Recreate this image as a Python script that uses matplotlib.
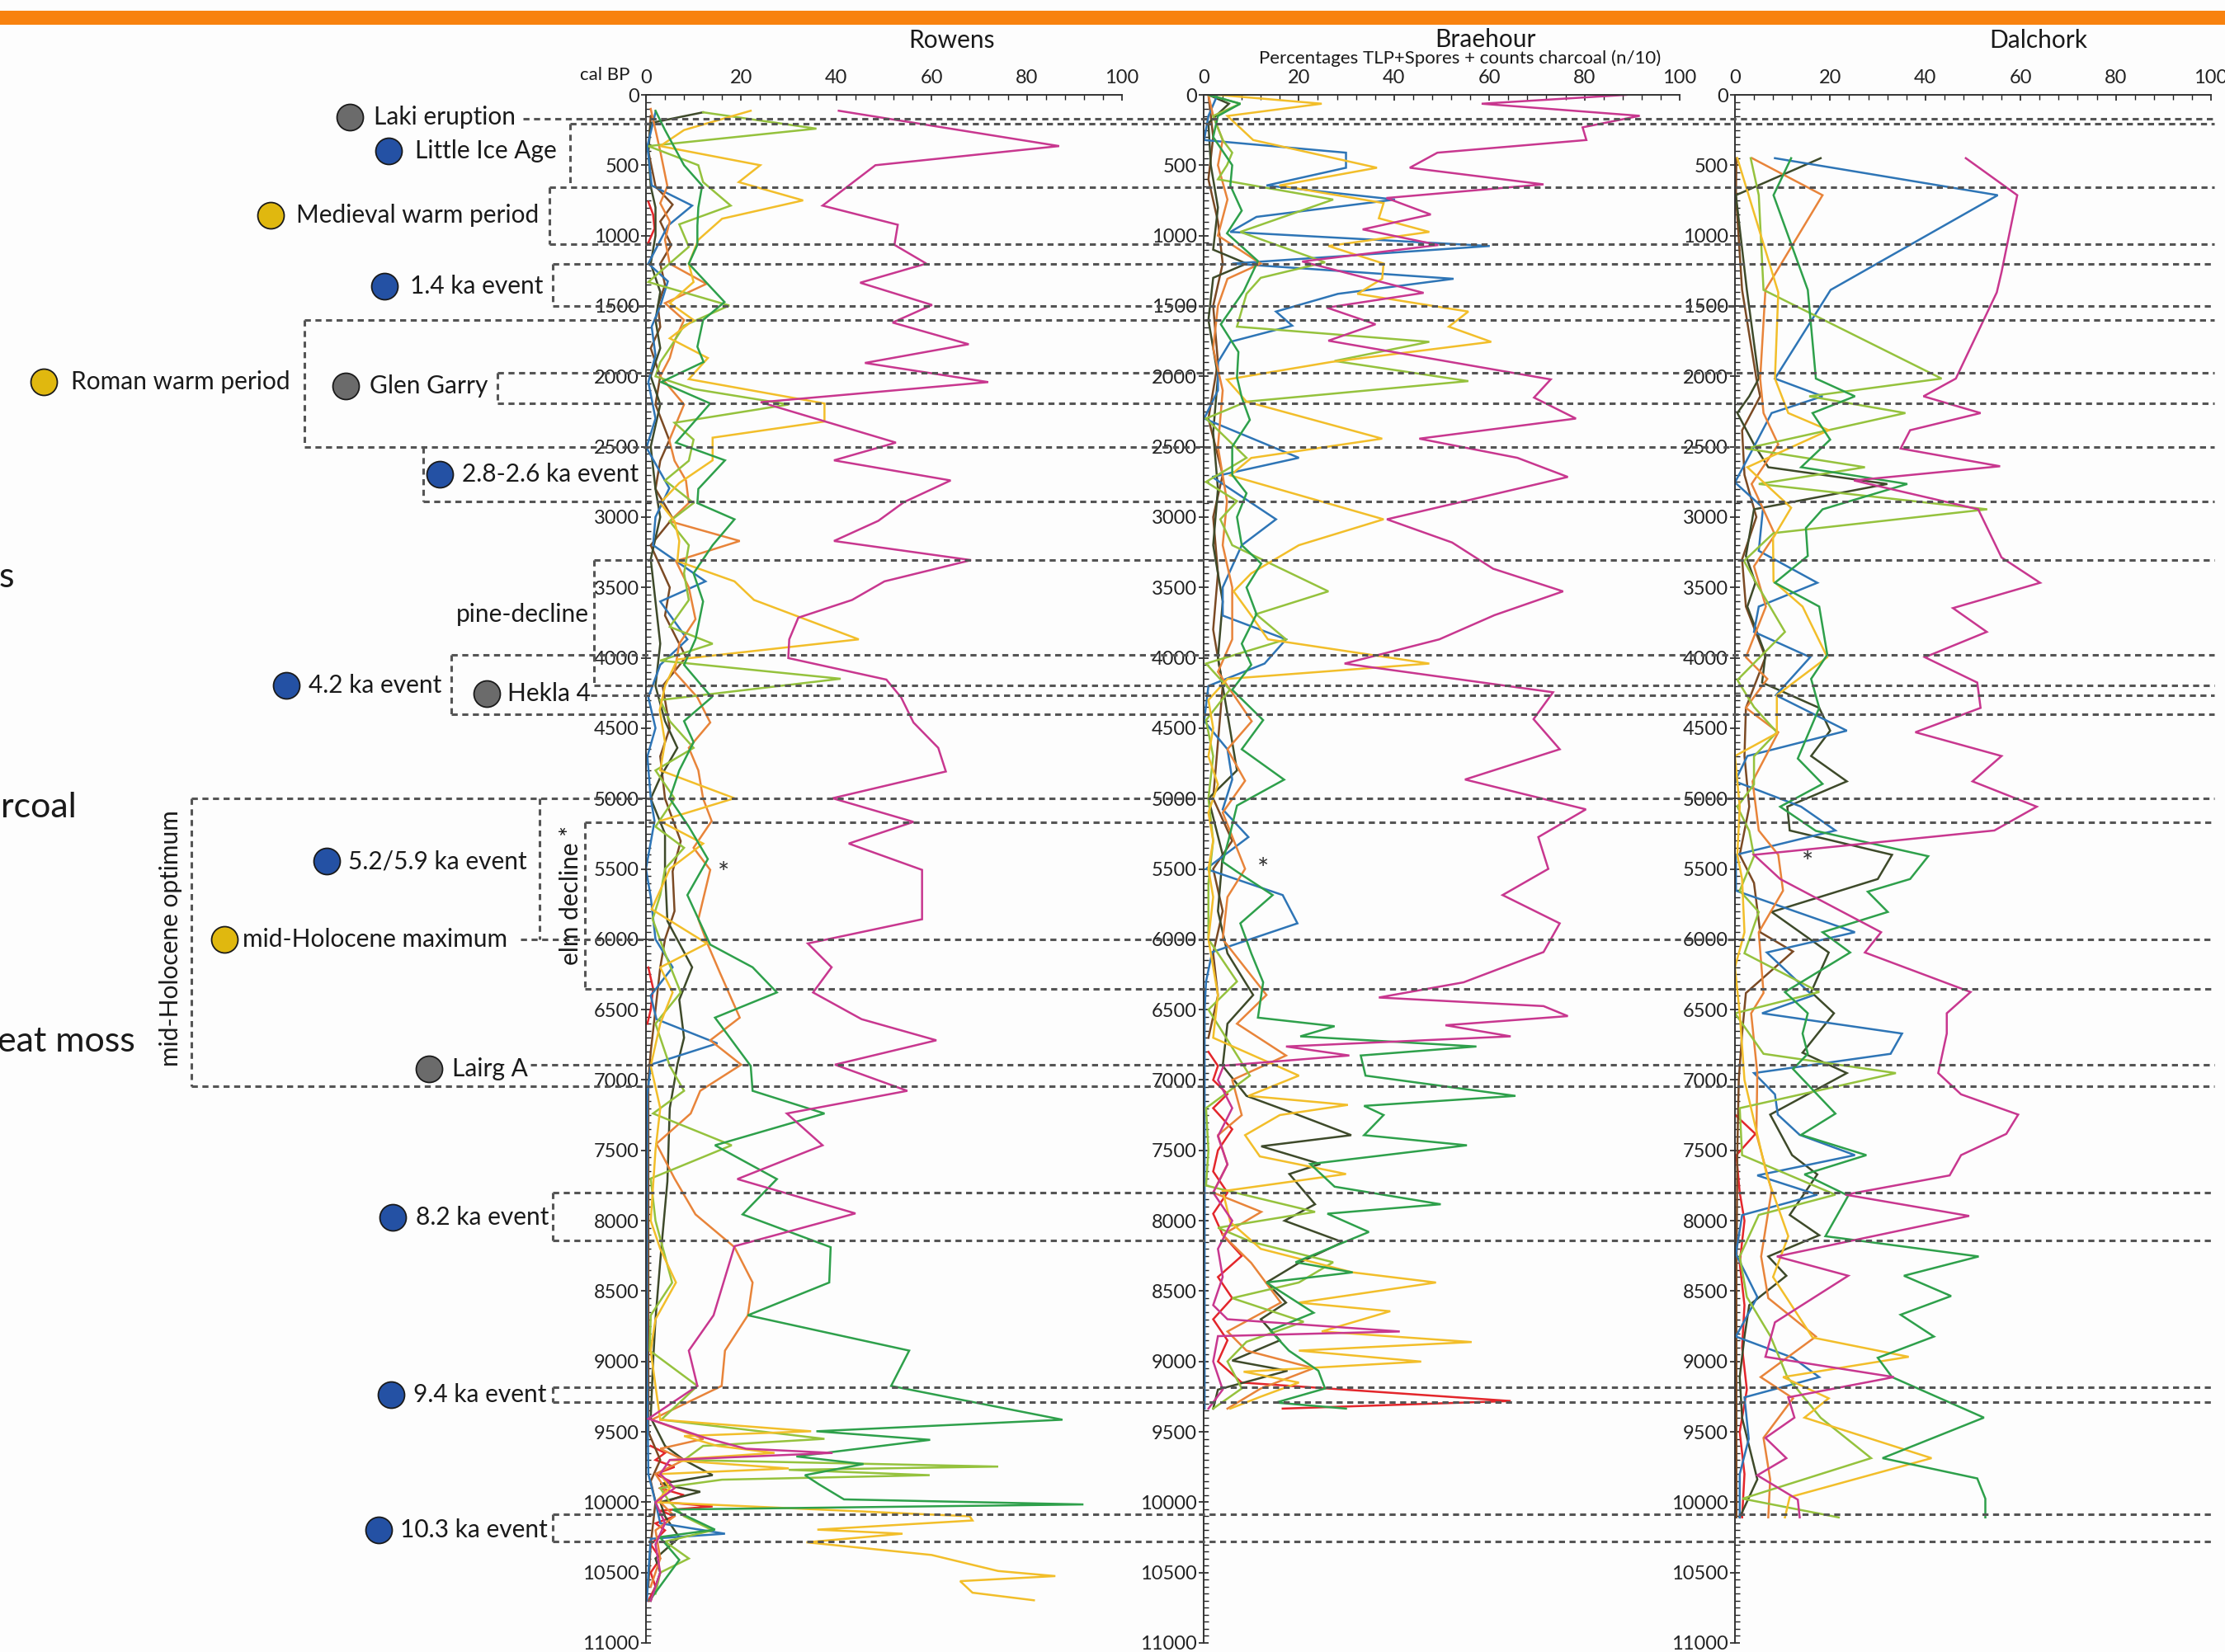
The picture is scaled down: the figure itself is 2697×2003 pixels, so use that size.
import numpy as np
import matplotlib
matplotlib.use("Agg")
import matplotlib.pyplot as plt
from matplotlib.lines import Line2D
from matplotlib.patches import Rectangle
from matplotlib.ticker import MultipleLocator
from matplotlib.transforms import blended_transform_factory

plt.rcParams['font.family'] = ['Lato', 'DejaVu Sans']

nan = float('nan')

# ---- data: (cal BP, value) pairs ----
ROW_MAGENTA = [(113, 40.5), (364, 86.8), (500, 48.2), (787, 37.1), (923, 52.9), (1066, 52.2), (1199, 58.9),
               (1335, 45.0), (1493, 60.1), (1618, 51.8), (1772, 67.8), (1905, 46.0), (2041, 71.9), (2184, 24.1),
               (2471, 52.5), (2597, 39.5), (2740, 64.0), (2894, 54.2), (3027, 48.8), (3170, 39.5), (3306, 68.3),
               (3457, 50.1), (3589, 43.3), (3715, 32.0), (3869, 30.1), (4002, 29.9), (4155, 50.5), (4281, 53.6),
               (4460, 56.2), (4640, 61.4), (4808, 63.0), (4998, 39.2), (5166, 56.2), (5320, 42.6), (5507, 58.0),
               (5858, 58.0), (6030, 34.0), (6199, 39.0), (6378, 35.1), (6568, 45.3), (6718, 61.0), (6891, 39.7),
               (7077, 54.9), (7238, 29.6), (7464, 37.1), (7704, 19.2), (7948, 44.0), (8181, 18.6), (8672, 14.2),
               (8923, 9.0), (9174, 10.8), (9407, 0.5), (9543, 12.5), (9620, 21), (9650, 39.2), (9700, 5),
               (9800, 3), (9900, 6), (10000, 2), (10150, 4), (10300, 2), (10500, 3), (10700, 1)]
ROW_GREEN = [(113, 2), (250, 4), (500, 8), (645, 11.8), (800, 11), (930, 10.8), (1066, 10.8), (1200, 9),
             (1472, 16.5), (1600, 12), (1790, 10.8), (1898, 12.1), (2041, 3.2), (2193, 13.5), (2471, 6.3),
             (2597, 16.6), (2800, 11), (2901, 10.8), (3016, 18.6), (3200, 14), (3400, 10), (3600, 12), (3869, 10.4),
             (4050, 8), (4281, 13.8), (4450, 8), (4600, 10), (4800, 7), (5000, 5), (5200, 9), (5430, 13),
             (5686, 8.7), (6038, 13.5), (6199, 22.4), (6378, 27.5), (6557, 14.5), (6900, 22), (7077, 22.4),
             (7238, 37.5), (7464, 14.5), (7704, 27.5), (7955, 20.3), (8188, 38.8), (8439, 38.5), (8672, 21.4),
             (8923, 55.3), (9174, 51.5), (9414, 87.5), (9496, 35.8), (9557, 59.7), (9675, 31.6), (9729, 45.7),
             (9808, 33.4), (9872, 36.3), (9980, 41.6), (10016, 91.9), (10052, 5.6), (10195, 14.5), (10248, 2.9),
             (10410, 7), (10697, 0.8)]
ROW_LTGREEN = [(124, 12), (240, 35.8), (364, 0.5), (500, 11), (620, 12), (787, 17.8), (920, 7), (1080, 9),
               (1330, 0.5), (1497, 17.5), (1640, 8), (1800, 5), (1900, 3), (2000, 2), (2090, 10), (2200, 30),
               (2330, 6), (2450, 10), (2600, 9), (2740, 4), (2900, 10), (3030, 5), (3200, 9), (3400, 8),
               (3590, 9), (3780, 5), (3900, 14), (4020, 3), (4149, 40.9), (4300, 3), (4450, 5), (4640, 10),
               (4800, 2), (5000, 6), (5200, 2), (5350, 8), (5500, 4), (5686, 3), (5858, 1.4), (6100, 4),
               (6378, 7.3), (6600, 2), (6900, 5), (7077, 8), (7238, 1.5), (7464, 18), (7700, 1), (8000, 2),
               (8440, 5.5), (8672, 1), (8923, 0.8), (9174, 10.8), (9414, 3.2), (9550, 37.5), (9600, 12),
               (9700, 8), (9747, 74), (9770, 30), (9808, 59.6), (9840, 16), (9900, 3), (10000, 5), (10100, 8),
               (10200, 14), (10280, 4), (10400, 9), (10500, 3), (10650, 2)]
ROW_YELLOW = [(113, 22), (250, 8), (364, 3), (500, 24), (620, 19.5), (750, 33), (880, 16), (1030, 11),
              (1200, 9), (1330, 10), (1480, 5), (1600, 10), (1730, 5), (1870, 13), (2020, 9), (2193, 37.5),
              (2321, 37.5), (2436, 14), (2597, 14), (2758, 7), (2900, 3), (3030, 6), (3170, 7), (3313, 6.6),
              (3457, 18.6), (3589, 22.7), (3869, 44.7), (4012, 6.6), (4200, 4), (4371, 2.9), (4600, 4),
              (4800, 3), (4998, 18.6), (5160, 2.9), (5320, 12), (5500, 5), (5787, 1.2), (6030, 12.8), (6200, 3),
              (6378, 5.6), (6600, 3), (6900, 1), (7200, 3), (7500, 2), (8000, 1), (8200, 3), (8439, 6.3),
              (8700, 2), (8923, 1), (9174, 2), (9414, 3), (9496, 34.7), (9530, 8), (9600, 15), (9650, 27),
              (9700, 5), (9760, 30), (9800, 3), (9900, 5), (10000, 2), (10100, 68), (10130, 68.6), (10195, 36),
              (10224, 53.9), (10285, 33.7), (10375, 60), (10489, 74), (10525, 86), (10561, 66), (10643, 68.6),
              (10697, 81.5)]
ROW_ORANGE = [(100, 1), (250, 2), (400, 3), (650, 4.5), (770, 3), (900, 5), (1030, 4), (1200, 5),
              (1343, 12.7), (1480, 4), (1600, 8), (1750, 6), (1870, 5), (2000, 3), (2200, 8), (2454, 4.9),
              (2600, 6), (2740, 8.4), (2900, 9), (3030, 5), (3170, 19.7), (3313, 6.3), (3500, 9), (3726, 10.4),
              (3900, 7), (4100, 6), (4281, 10.8), (4460, 13.5), (4640, 9), (4800, 11), (5000, 12), (5160, 13.8),
              (5350, 10), (5507, 13.5), (5858, 11), (6038, 13), (6235, 15.5), (6557, 19.7), (6718, 13.5),
              (6891, 20), (7077, 11.4), (7238, 9.4), (7453, 2.2), (7700, 6), (7955, 10.4), (8188, 18.6),
              (8439, 22.4), (8672, 21.4), (8923, 16.6), (9174, 15.9), (9414, 1.2), (9550, 12.1), (9620, 3),
              (9700, 8), (9800, 2), (9900, 4), (10000, 3), (10100, 6), (10200, 2), (10400, 3), (10600, 1)]
ROW_BLUE = [(124, 2), (364, 0.3), (644, 1.2), (787, 9.7), (930, 4.6), (1199, 0.5), (1325, 4.6), (1500, 3),
            (1647, 1.2), (1850, 2), (2041, 0.5), (2300, 2), (2507, 0.1), (2795, 4.9), (3000, 2), (3200, 1.5),
            (3457, 12.5), (3600, 3), (3869, 8.7), (4050, 3), (4281, 0.5), (4500, 2), (4700, 0.3), (5000, 1),
            (5160, 1.8), (5500, 0), (5700, 1), (6000, 2), (6199, 5.6), (6400, 1), (6568, 2.2), (6740, 15),
            (6891, 1), (7100, 0.3), (8000, 0.2), (9000, 0.2), (9800, 0.5), (10000, 2), (10150, 3),
            (10224, 16.6), (10260, 1), (10500, 0.5), (10700, 0.2)]
ROW_BROWN = [(150, 1), (400, 0.5), (650, 2), (780, 5.6), (900, 3), (1068, 5.3), (1200, 3), (1350, 4),
             (1500, 2.5), (1650, 3), (1800, 1), (2000, 3), (2200, 2), (2454, 4.9), (2600, 3), (2800, 2),
             (3009, 5.6), (3200, 1), (3500, 5), (3700, 4), (3995, 8.4), (4200, 3.5), (4500, 5), (4700, 3),
             (5000, 4), (5303, 7.3), (5517, 5.6), (5800, 6), (6000, 4), (6200, 3), (6500, 2), (6800, 1),
             (7000, 0.5), (7500, 0.5), (9500, 0.5), (9700, 3), (9850, 1), (10000, 2), (10300, 1), (10600, 0.5)]
ROW_OLIVE = [(124, 12), (200, 1), (400, 0.5), (650, 1), (800, 2), (1000, 2), (1200, 1), (1400, 3), (1600, 2),
             (1800, 3), (2000, 1), (2200, 3), (2500, 1), (2800, 2), (3000, 3), (3300, 1), (3600, 2), (3900, 3),
             (4200, 2), (4450, 4), (4640, 6.6), (4850, 3), (5000, 1), (5250, 4), (5500, 4), (5870, 4.5),
             (6199, 9.7), (6430, 7), (6700, 8), (6891, 6.6), (7200, 5), (7722, 4.5), (8206, 3.2), (8700, 2),
             (9000, 1.5), (9400, 1), (9600, 4), (9700, 8), (9808, 14), (9870, 3), (9926, 11.4), (10000, 3),
             (10100, 4), (10250, 7), (10400, 2), (10500, 3), (10700, 1)]
ROW_RED = [(760, 0.5), (850, 1.5), (950, 1.8), (1050, 0.5), (1100, nan), (6200, 0.5), (6350, 1.5), (6500, 1),
           (6600, 0.3), (6650, nan), (9600, 1), (9650, 4), (9700, 2), (9750, 6), (9800, 2), (9850, 5), (9900, 3),
           (9950, 8), (10000, 4), (10030, 14), (10060, 3), (10100, 6), (10150, 2), (10200, 4), (10300, 1),
           (10400, 3), (10500, 1), (10600, 2), (10700, 0.5)]

BRA_MAGENTA = [(0, 88.8), (63, 58.4), (149, 91.6), (231, 79.6), (321, 80.4), (411, 49.1), (518, 43.3),
               (636, 71.4), (733, 38.4), (850, 47.7), (956, 33.4), (1067, 49.3), (1184, 20.7), (1407, 46.2),
               (1512, 25.9), (1630, 36.1), (1747, 26.2), (2022, 72.9), (2151, 69.4), (2300, 78.2), (2443, 45.3),
               (2579, 65.9), (2715, 76.5), (3016, 38.5), (3181, 52.2), (3367, 60.8), (3528, 75.5), (3697, 61.1),
               (3869, 49.5), (4041, 29.6), (4245, 73.4), (4436, 69.3), (4650, 74.8), (4865, 54.9), (5077, 80.3),
               (5274, 70.3), (5500, 72.4), (5686, 62.8), (5887, 74.8), (6091, 71.4), (6306, 54.6), (6414, 36.8),
               (6475, 71.4), (6546, 76.5), (6611, 50.8), (6690, 64.5), (6762, 17.3), (6826, 30.6), (6898, 4.2),
               (7000, 3), (7200, 6), (7400, 3), (7600, 5), (7800, 2), (8000, 6), (8200, 3), (8400, 4), (8600, 2),
               (8700, 5), (8787, 41.2), (8820, 3), (9000, 2), (9200, 4), (9335, 1)]
BRA_GREEN = [(0, 1), (63, 7.7), (150, 3), (300, 2), (500, 6), (644, 5.6), (823, 8), (984, 4.9), (1181, 11.4),
             (1396, 8.4), (1630, 3.6), (1827, 7.3), (2006, 7), (2150, 8), (2310, 9.7), (2500, 6), (2700, 6),
             (2831, 9), (3000, 7), (3200, 8), (3331, 12.1), (3500, 9), (3690, 11.1), (3900, 8), (4050, 10),
             (4227, 6), (4443, 12.5), (4650, 8), (4866, 16.9), (5050, 7), (5285, 5.3), (5450, 4), (5520, 7),
             (5686, 14.5), (5887, 7.7), (6100, 10), (6306, 12.5), (6557, 11.4), (6618, 27.5), (6690, 20.3),
             (6762, 57.3), (6826, 33), (6969, 34), (7113, 65.5), (7184, 33.7), (7249, 37.8), (7392, 33.7),
             (7464, 55.3), (7597, 22.4), (7758, 27.5), (7883, 49.8), (7950, 26), (8080, 34.7), (8295, 19.3),
             (8367, 31.3), (8439, 13.2), (8654, 23.1), (8780, 14), (8923, 17.9), (9066, 24.1), (9192, 25.5),
             (9292, 15.2), (9335, 29.9)]
BRA_LTGREEN = [(0, 1), (63, 7.7), (150, 2), (321, 4), (411, 6), (500, 4.9), (600, 3), (744, 27.2), (974, 7.7),
               (1190, 25.5), (1300, 12), (1414, 9), (1647, 7), (1755, 47.4), (1891, 27.5), (2034, 55.6),
               (2180, 9), (2300, 0.5), (2579, 9), (2750, 0.5), (2887, 7), (3016, 3.5), (3200, 6), (3528, 26.2),
               (3690, 11), (3869, 17.3), (4041, 0.5), (4227, 5.5), (4443, 0.5), (4700, 2), (5000, 1), (5300, 2),
               (5600, 1), (6000, 1), (6300, 7), (6500, 1), (6969, 9.7), (7200, 0.5), (7500, 1), (7750, 0.5),
               (7937, 23.4), (8050, 3), (8150, 10), (8295, 27.2), (8439, 20), (8550, 6), (8718, 21), (8860, 9),
               (9000, 5), (9192, 8), (9335, 2)]
BRA_YELLOW = [(0, 3), (63, 24.8), (150, 5), (321, 10.4), (518, 36.4), (644, 15.9), (769, 37.8), (877, 36.8),
              (974, 47.4), (1074, 26.2), (1199, 37.8), (1307, 37.5), (1414, 32.3), (1540, 55.6), (1647, 51.5),
              (1755, 60.4), (1898, 26.8), (2023, 4.9), (2180, 9), (2443, 37.5), (2580, 10), (2704, 5.6),
              (3016, 37.8), (3200, 20), (3400, 10), (3528, 6.3), (3700, 10), (3869, 13.5), (4041, 47.4),
              (4150, 5), (4300, 1), (4500, 2), (4700, 1), (4900, 3), (5100, 1), (5300, 2), (5500, 1), (5700, 2),
              (6000, 1), (6396, 3), (6700, 2), (6969, 20), (7113, 9.4), (7177, 30.3), (7249, 16), (7392, 8.7),
              (7543, 11.8), (7668, 29.9), (7790, 4), (8009, 5.6), (8200, 12), (8367, 31.3), (8439, 48.8),
              (8582, 20), (8643, 39.2), (8787, 24.8), (8862, 56.3), (8923, 20), (9001, 45.7), (9073, 8.4),
              (9150, 20), (9250, 12), (9335, 5.6)]
BRA_ORANGE = [(0, 1), (150, 2), (321, 4), (500, 3), (744, 5), (1000, 3), (1199, 12), (1307, 5), (1500, 3),
              (1800, 2), (2100, 4), (2500, 3), (2887, 4.9), (3200, 4), (3500, 6), (3869, 6), (4100, 3),
              (4451, 10.1), (4650, 5), (4874, 8.7), (5100, 4), (5500, 8.7), (5700, 5), (6000, 4), (6396, 13.2),
              (6600, 7), (6826, 17.3), (7000, 6), (7250, 8), (7392, 3), (7600, 5), (7800, 2), (7937, 12.1),
              (8100, 4), (8300, 10), (8582, 16.2), (8787, 5), (8923, 9), (9048, 23.1), (9192, 12), (9335, 5)]
BRA_BLUE = [(0, 2.9), (150, 1), (321, 0.1), (411, 29.9), (518, 29.9), (644, 13.2), (744, 40.2), (867, 11.1),
            (974, 5.6), (1074, 60.1), (1199, 6), (1307, 52.5), (1414, 28.2), (1540, 15.2), (1640, 18.6),
            (1755, 5.6), (1900, 3), (2100, 3), (2300, 0.1), (2579, 20), (2715, 1.8), (3016, 15.2), (3200, 8),
            (3500, 4), (3700, 4), (3869, 17.3), (4041, 12.8), (4200, 1), (4450, 0.1), (4650, 5), (4865, 6),
            (5077, 4), (5274, 9.4), (5500, 0.5), (5686, 16.6), (5887, 19.7), (6091, 1.8), (6300, 0.5),
            (6500, 0.2), (9335, 0.2)]
BRA_BROWN = [(0, 1), (300, 2), (600, 1), (900, 3), (1199, 4), (1500, 2), (1900, 3), (2300, 1), (2700, 4),
             (3000, 2), (3400, 3), (3800, 2), (4200, 4), (4600, 3), (5000, 2), (5300, 6), (5500, 2), (5800, 4),
             (6100, 2), (6400, 3), (6700, 1)]
BRA_OLIVE = [(0, 1), (63, 5.3), (200, 1), (500, 1.5), (800, 3), (1100, 2), (1199, 9), (1300, 2), (1600, 1),
             (2000, 3), (2400, 2), (2800, 3), (3200, 2), (3600, 4), (4000, 3), (4400, 5), (4800, 7), (5000, 1),
             (5400, 4), (5800, 3), (6100, 5), (6396, 10.4), (6600, 5), (6900, 4), (7113, 9), (7250, 20),
             (7392, 31), (7471, 12.1), (7597, 24.5), (7668, 18), (7883, 23.4), (8000, 17), (8152, 29.2),
             (8300, 20), (8439, 13.2), (8582, 17.3), (8700, 12), (8850, 16), (8994, 6), (9066, 17.6), (9200, 3),
             (9335, 2)]
BRA_RED = [(6800, 1), (6900, 3), (7000, 2), (7100, 5), (7200, 2), (7350, 6), (7500, 3), (7650, 2), (7800, 5),
           (7950, 2), (8100, 4), (8250, 8), (8400, 3), (8550, 6), (8700, 2), (8850, 5), (9000, 3), (9150, 8),
           (9281, 64.5), (9335, 16.6)]

DAL_MAGENTA = [(450, 48.5), (713, 59.3), (1260, 56), (1404, 55), (2016, 46.4), (2142, 39.6), (2261, 51.6),
               (2383, 36.8), (2513, 34.8), (2639, 55.7), (2740, 25), (2945, 51.1), (3287, 56), (3467, 64.1),
               (3647, 45.8), (3816, 52.9), (3996, 39.9), (4176, 50.9), (4356, 51.6), (4529, 37.9), (4698, 56),
               (4878, 49.9), (5058, 63.4), (5227, 54.5), (5400, 4), (5572, 9.5), (5950, 30.7), (6094, 27.3),
               (6375, 49.5), (6526, 44.5), (6670, 44.5), (6951, 42.7), (7102, 47.5), (7246, 59.5), (7383, 57),
               (7534, 47.5), (7678, 45.1), (7815, 23.2), (7966, 49.2), (8254, 8.8), (8391, 23.8), (8722, 8.4),
               (8967, 6.4), (9111, 33.4), (9255, 11.2), (9399, 12.5), (9543, 6.4), (9687, 10.8), (9809, 4.7),
               (9982, 13.2), (10108, 13.6)]
DAL_GREEN = [(450, 11.8), (713, 8.1), (1386, 15.3), (2016, 17), (2142, 25.2), (2261, 16.3), (2450, 20),
             (2646, 13.9), (2765, 36.2), (2945, 18.4), (3078, 14.9), (3276, 15.3), (3467, 8.4), (3636, 17.7),
             (3978, 19.4), (4150, 16), (4356, 17.7), (4716, 13.2), (4896, 18.4), (5058, 9.5), (5230, 17),
             (5410, 40.6), (5572, 36.8), (5662, 27.9), (5806, 32.1), (5950, 18.4), (6094, 24.2), (6375, 10.5),
             (6526, 15.3), (6670, 14.2), (6814, 15.3), (6922, 12.2), (7239, 21.1), (7390, 13.9), (7534, 27.6),
             (7671, 14.6), (7822, 23.8), (8110, 19), (8254, 51.2), (8391, 35.5), (8535, 45.4), (8668, 34.8),
             (8823, 41.8), (8974, 30), (9111, 33), (9399, 52.3), (9687, 31), (9831, 50.9), (9975, 52.6),
             (10108, 52.6)]
DAL_LTGREEN = [(450, 3.3), (713, 5), (1386, 6), (2016, 43.4), (2142, 15.6), (2261, 35.8), (2513, 2.3),
               (2646, 27.3), (2765, 5), (2945, 53), (3114, 8.1), (3312, 1.9), (3500, 5), (3816, 10.5),
               (4158, 0.5), (4350, 4), (4529, 8.8), (4700, 4), (4900, 4), (5058, 0.5), (5230, 3), (5410, 4),
               (5655, 1), (5806, 5), (6100, 2), (6375, 17.7), (6526, 0), (6814, 6), (6951, 33.8), (7200, 1),
               (7534, 1.5), (7815, 21.1), (7959, 5), (8254, 1), (8542, 2.5), (8823, 7.5), (9111, 11), (9400, 18),
               (9687, 28.6), (9975, 1.6), (10108, 21.8)]
DAL_YELLOW = [(450, 0.5), (1404, 9.1), (2016, 8.4), (2261, 11.2), (2383, 19.7), (2646, 2.6), (2934, 11.8),
              (3150, 8), (3456, 8.1), (3636, 14.2), (3996, 19.4), (4266, 8.8), (4536, 8.8), (4698, 0), (5058, 1),
              (5400, 0.5), (5572, 1.5), (5950, 2), (6200, 0), (6526, 1), (7000, 2), (7678, 6.7), (8110, 11.2),
              (8400, 8), (8830, 16.3), (8967, 36.5), (9111, 10.1), (9262, 19.7), (9399, 14.6), (9687, 41.3),
              (9964, 11.5), (10108, 10.5)]
DAL_ORANGE = [(450, 3.6), (713, 18.4), (1386, 6.4), (2016, 5.3), (2261, 6), (2484, 9.1), (2765, 3.5),
              (3125, 8.4), (3350, 4), (3636, 6.5), (3996, 2.3), (4150, 6.8), (4356, 2.3), (4529, 9.1),
              (4878, 3.7), (5227, 5), (5400, 9.1), (5655, 10.1), (5950, 5), (6382, 6), (6526, 3.4), (6951, 4.7),
              (7383, 4.5), (7786, 7.7), (8254, 5.5), (8550, 7), (8823, 17), (9111, 5.4), (9262, 12.2),
              (9543, 6), (9838, 7.4), (10108, 7)]
DAL_BLUE = [(450, 8.4), (713, 55.2), (1386, 20.1), (2016, 8.4), (2142, 18.4), (2261, 7.7), (2500, 4),
            (2754, 0), (2934, 5.9), (3240, 5), (3467, 17.3), (3636, 5), (3816, 4), (3996, 15.8), (4266, 8.6),
            (4518, 23.5), (4698, 2.6), (4878, 0), (5058, 13.9), (5227, 21.1), (5400, 0.2), (5655, 0.2),
            (5950, 25.2), (6094, 6.7), (6400, 16.3), (6526, 5.7), (6670, 35.1), (6814, 32.7), (6951, 4),
            (7102, 8.4), (7246, 9), (7390, 13.6), (7534, 25.2), (7678, 4.7), (7815, 17.3), (7960, 1.5),
            (8236, 0.2), (8542, 4.7), (8823, 0.2), (8974, 12.2), (9111, 17.7), (9255, 2), (9550, 2.9),
            (9800, 1), (10108, 1)]
DAL_BROWN = [(450, 0.3), (713, 0.2), (1386, 1.5), (2016, 4.5), (2142, 5.3), (2384, 1.5), (2700, 2), (3000, 4.5),
             (3300, 1.5), (3636, 2.3), (3996, 6.4), (4356, 2.3), (4698, 2), (5058, 3), (5400, 1), (5600, 4),
             (5950, 5.3), (6087, 12.2), (6382, 2.3), (6670, 1.5), (7000, 0.8), (7500, 0.5), (8500, 0.3),
             (9500, 0.3), (10108, 0.3)]
DAL_OLIVE = [(450, 18), (713, 0.2), (1386, 2.5), (2016, 5), (2142, 3), (2261, 0.5), (2484, 4), (2646, 7),
             (2765, 32), (2945, 4), (3276, 2.3), (3467, 4.3), (3636, 2.6), (3978, 6.4), (4176, 5.7),
             (4356, 17.7), (4518, 20), (4698, 16), (4878, 23.5), (5058, 11), (5227, 11.5), (5400, 33),
             (5572, 30), (5806, 7.7), (6094, 19.7), (6375, 16), (6526, 20.8), (6806, 14.2), (6951, 23.5),
             (7246, 7.4), (7534, 12), (7671, 17.3), (7959, 11.5), (8103, 17.7), (8254, 7), (8391, 10.8),
             (8600, 3), (8823, 2), (9111, 1), (9400, 1.5), (9838, 4.7), (10108, 1)]
DAL_RED = [(7246, 0), (7383, 4.3), (7534, 0.3), (7800, 1), (8000, 2), (8300, 1), (8600, 2), (8900, 1.5),
           (9200, 2.5), (9500, 1), (9800, 2), (10108, 1.5)]

SITES = ['Rowens', 'Braehour', 'Dalchork']
COLORS = {'red': '#E3262B', 'brown': '#7B4A24', 'olive': '#3E4A2A', 'blue': '#2E75B6',
          'orange': '#E8843A', 'ltgreen': '#95C23D', 'yellow': '#F2BE2A', 'green': '#2EA04B',
          'magenta': '#C8378F'}
SERIES = {
    'Rowens': [('red', ROW_RED), ('brown', ROW_BROWN), ('olive', ROW_OLIVE), ('blue', ROW_BLUE),
               ('orange', ROW_ORANGE), ('ltgreen', ROW_LTGREEN), ('yellow', ROW_YELLOW),
               ('green', ROW_GREEN), ('magenta', ROW_MAGENTA)],
    'Braehour': [('red', BRA_RED), ('brown', BRA_BROWN), ('olive', BRA_OLIVE), ('blue', BRA_BLUE),
                 ('orange', BRA_ORANGE), ('ltgreen', BRA_LTGREEN), ('yellow', BRA_YELLOW),
                 ('green', BRA_GREEN), ('magenta', BRA_MAGENTA)],
    'Dalchork': [('red', DAL_RED), ('brown', DAL_BROWN), ('olive', DAL_OLIVE), ('blue', DAL_BLUE),
                 ('orange', DAL_ORANGE), ('ltgreen', DAL_LTGREEN), ('yellow', DAL_YELLOW),
                 ('green', DAL_GREEN), ('magenta', DAL_MAGENTA)],
}

# events: (label, colour, circle x px, text x px, age of label)
EVENTS = [('Laki eruption', 'gray', 424, 453, 161), ('Little Ice Age', 'blue', 471, 503, 399),
          ('Medieval warm period', 'yellow', 328, 359, 853), ('1.4 ka event', 'blue', 466, 497, 1358),
          ('Roman warm period', 'yellow', 53, 86, 2039), ('Glen Garry', 'gray', 419, 448, 2070),
          ('2.8-2.6 ka event', 'blue', 533, 560, 2695), ('4.2 ka event', 'blue', 347, 374, 4196),
          ('Hekla 4', 'gray', 590, 615, 4256), ('5.2/5.9 ka event', 'blue', 396, 422, 5446),
          ('mid-Holocene maximum', 'yellow', 272, 294, 6002), ('Lairg A', 'gray', 520, 548, 6923),
          ('8.2 ka event', 'blue', 476, 504, 7978), ('9.4 ka event', 'blue', 474, 501, 9238),
          ('10.3 ka event', 'blue', 459, 485, 10199)]
DOT = {'gray': '#6B6B6B', 'blue': '#2451A4', 'yellow': '#E0B80F'}
# brackets: (x px of vertical, top age, bottom age)
BRACKETS = [(691, 206, 655), (666, 655, 1060), (670, 1203, 1502), (369, 1600, 2502), (603, 1974, 2192),
            (513, 2502, 2888), (720, 3303, 4195), (547, 3982, 4402), (232, 5000, 7045), (654, 5000, 6000),
            (709, 5168, 6350), (670, 7798, 8143), (670, 9182, 9290), (670, 10085, 10280)]
SINGLE_LINES = [(634, 168), (716, 4268), (631, 6000), (643, 6891)]

W, H, DPI = 2697, 2003, 100
fig = plt.figure(figsize=(W / DPI, H / DPI), dpi=DPI, facecolor='#fdfdfd')

AX_LEFT = [783, 1459, 2103]
AX_W = 577
TOP, BOT = 115, 1992

axes = []
for site, left in zip(SITES, AX_LEFT):
    ax = fig.add_axes([left / W, 1 - BOT / H, AX_W / W, (BOT - TOP) / H])
    ax.set_facecolor('none')
    for name, pts in SERIES[site]:
        arr = np.array(pts, dtype=float)
        ax.plot(arr[:, 1], arr[:, 0], color=COLORS[name], lw=1.8, solid_joinstyle='miter')
    ax.set_xlim(0, 100)
    ax.set_ylim(11000, 0)
    ax.xaxis.tick_top()
    ax.set_xticks(range(0, 101, 20))
    ax.xaxis.set_minor_locator(MultipleLocator(4))
    ax.set_yticks(range(0, 11001, 500))
    ax.yaxis.set_minor_locator(MultipleLocator(50))
    ax.tick_params(axis='x', which='major', direction='in', length=5, width=1.2, pad=7, labelsize=17,
                   colors='#222222')
    ax.tick_params(axis='x', which='minor', direction='in', length=4, width=1.0, colors='#222222')
    ax.tick_params(axis='y', which='major', direction='inout', length=8, width=1.2, pad=2, labelsize=17,
                   colors='#222222')
    ax.tick_params(axis='y', which='minor', direction='in', length=4, width=1.0, colors='#222222')
    for s in ('right', 'bottom'):
        ax.spines[s].set_visible(False)
    for s in ('left', 'top'):
        ax.spines[s].set_color('#333333')
        ax.spines[s].set_linewidth(1.4)
    axes.append(ax)

tr = blended_transform_factory(fig.transFigure, axes[0].transData)
dash = dict(color='#555555', lw=2.2, ls=(0, (2.4, 1.8)), transform=tr)
RIGHT_END = 2684

# one horizontal dashed line per age, starting at the leftmost bracket using it
starts = {}
for x, a0, a1 in BRACKETS:
    for a in (a0, a1):
        starts[a] = min(starts.get(a, W), x)
    fig.add_artist(Line2D([x / W, x / W], [a0, a1], **dash))
for x, a in SINGLE_LINES:
    starts[a] = min(starts.get(a, W), x)
for a, x in starts.items():
    fig.add_artist(Line2D([x / W, RIGHT_END / W], [a, a], **dash))

for label, col, cx, tx, age in EVENTS:
    fig.add_artist(Line2D([cx / W], [age], marker='o', ms=23, mfc=DOT[col], mec='#1a1a1a', mew=1.3,
                          transform=tr))
    fig.text(tx / W, age, label, transform=tr, ha='left', va='center', fontsize=21.5, color='#1a1a1a')

fig.text(714 / W, 3693, 'pine-decline', transform=tr, ha='right', va='center', fontsize=21.5, color='#1a1a1a')
fig.text(207 / W, 5990, 'mid-Holocene optimum', transform=tr, ha='center', va='center', rotation=90,
         fontsize=21.5, color='#1a1a1a')
fig.text(692 / W, 5690, 'elm decline *', transform=tr, ha='center', va='center', rotation=90,
         fontsize=21.5, color='#1a1a1a')
for x, a in [(877, 5540), (1531, 5510), (2191, 5460)]:
    fig.text(x / W, a, '*', transform=tr, ha='center', va='center', fontsize=24, color='#333333')

# cut-off legend text at the left margin
for s, x, a in [('s', 17, 3430), ('rcoal', 93, 5065), ('eat moss', 164, 6730)]:
    fig.text(x / W, a, s, transform=tr, ha='right', va='center', fontsize=31, color='#1a1a1a')

# titles
fig.text(1153 / W, 1 - 49 / H, 'Rowens', ha='center', va='center', fontsize=21.5, color='#1a1a1a')
fig.text(1801 / W, 1 - 48 / H, 'Braehour', ha='center', va='center', fontsize=21.5, color='#1a1a1a')
fig.text(1770 / W, 1 - 71 / H, 'Percentages TLP+Spores + counts charcoal (n/10)', ha='center', va='center',
         fontsize=16, color='#1a1a1a')
fig.text(2471 / W, 1 - 49 / H, 'Dalchork', ha='center', va='center', fontsize=21.5, color='#1a1a1a')
fig.text(733 / W, 1 - 91 / H, 'cal BP', ha='center', va='center', fontsize=16, color='#1a1a1a')

# orange band at the top
fig.add_artist(Rectangle((0, 1 - 30 / H), 1, 17 / H, transform=fig.transFigure, color='#F8820F', lw=0))

fig.savefig('out.png', dpi=DPI, facecolor=fig.get_facecolor())
